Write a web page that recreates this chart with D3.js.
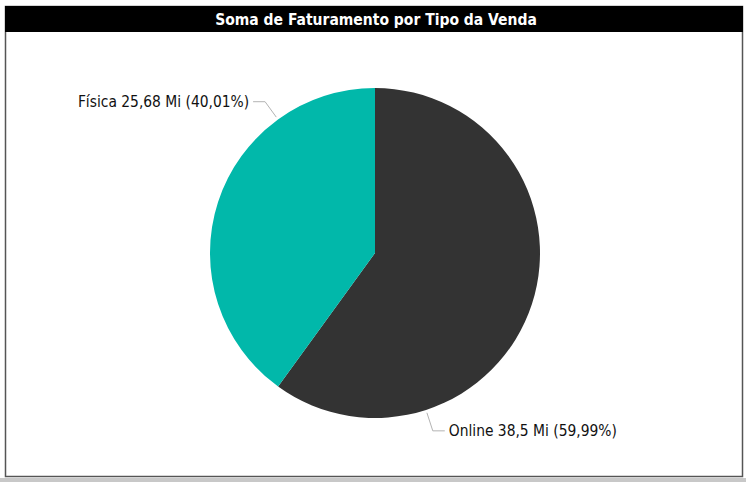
<!DOCTYPE html>
<html lang="pt">
<head>
    <meta charset="utf-8">
    <title>Faturamento por Tipo da Venda</title>
    <script src="https://cdn.jsdelivr.net/npm/d3@7"></script>
    <style>
        body { margin: 0; background: #ffffff; }
        text { font-family: "DejaVu Sans Condensed", "DejaVu Sans", sans-serif; }
    </style>
</head>
<body>
<div id="chart"></div>
<script type="text/javascript">
    // dados
    const tipos = ["Online", "Física"];
    const faturamento = [38.5, 25.68];
    const rotulosValor = ["38,5 Mi", "25,68 Mi"];
    const rotulosPct = ["59,99%", "40,01%"];
    const cores = ["#333333", "#01B8AA"];

    const width = 746;
    const height = 482;
    const cx = 375, cy = 253, raio = 165;

    const svg = d3.select("#chart")
        .append("svg")
        .attr("width", width)
        .attr("height", height);

    // sombra/fundo abaixo do card
    svg.append("rect")
        .attr("x", 0).attr("y", 478)
        .attr("width", width).attr("height", 4)
        .attr("fill", "#c8c8c8");

    // card
    svg.append("rect")
        .attr("x", 5.5).attr("y", 6.5)
        .attr("width", 737).attr("height", 470)
        .attr("fill", "#ffffff")
        .attr("stroke", "#555555")
        .attr("stroke-width", 1.5);

    // barra do titulo
    svg.append("rect")
        .attr("x", 5).attr("y", 6)
        .attr("width", 738).attr("height", 26)
        .attr("fill", "#000000");

    svg.append("text")
        .attr("x", 376).attr("y", 25)
        .attr("text-anchor", "middle")
        .attr("fill", "#ffffff")
        .attr("font-size", 15.5)
        .attr("font-weight", "bold")
        .text("Soma de Faturamento por Tipo da Venda");

    const dados = tipos.map((t, i) => ({
        tipo: t, valor: faturamento[i], rotulo: rotulosValor[i], pct: rotulosPct[i], cor: cores[i]
    }));

    const pie = d3.pie().sort(null).value(d => d.valor);
    const arc = d3.arc().innerRadius(0).outerRadius(raio);

    const g = svg.append("g").attr("transform", `translate(${cx},${cy})`);

    const fatias = pie(dados);

    g.selectAll("path")
        .data(fatias)
        .enter()
        .append("path")
        .attr("d", arc)
        .attr("fill", d => d.data.cor);

    // rotulos com linhas de chamada (angulo de ancoragem como no Power BI)
    const ancora = { "Online": 162, "Física": 324 };

    fatias.forEach(f => {
        const ang = ancora[f.data.tipo] * Math.PI / 180;
        const lado = Math.sin(ang) >= 0 ? 1 : -1;
        const p0 = [Math.sin(ang) * (raio + 3), -Math.cos(ang) * (raio + 3)];
        const p1 = [Math.sin(ang) * (raio + 22), -Math.cos(ang) * (raio + 22)];
        const p2 = [p1[0] + lado * 12, p1[1]];

        g.append("polyline")
            .attr("points", [p0, p1, p2].map(p => p.join(",")).join(" "))
            .attr("fill", "none")
            .attr("stroke", "#b3b3b3")
            .attr("stroke-width", 1);

        g.append("text")
            .attr("x", p2[0] + lado * 4)
            .attr("y", p2[1] + 5.5)
            .attr("text-anchor", lado > 0 ? "start" : "end")
            .attr("font-size", 15.4)
            .attr("fill", "#111111")
            .text(`${f.data.tipo} ${f.data.rotulo} (${f.data.pct})`);
    });
</script>
</body>
</html>
